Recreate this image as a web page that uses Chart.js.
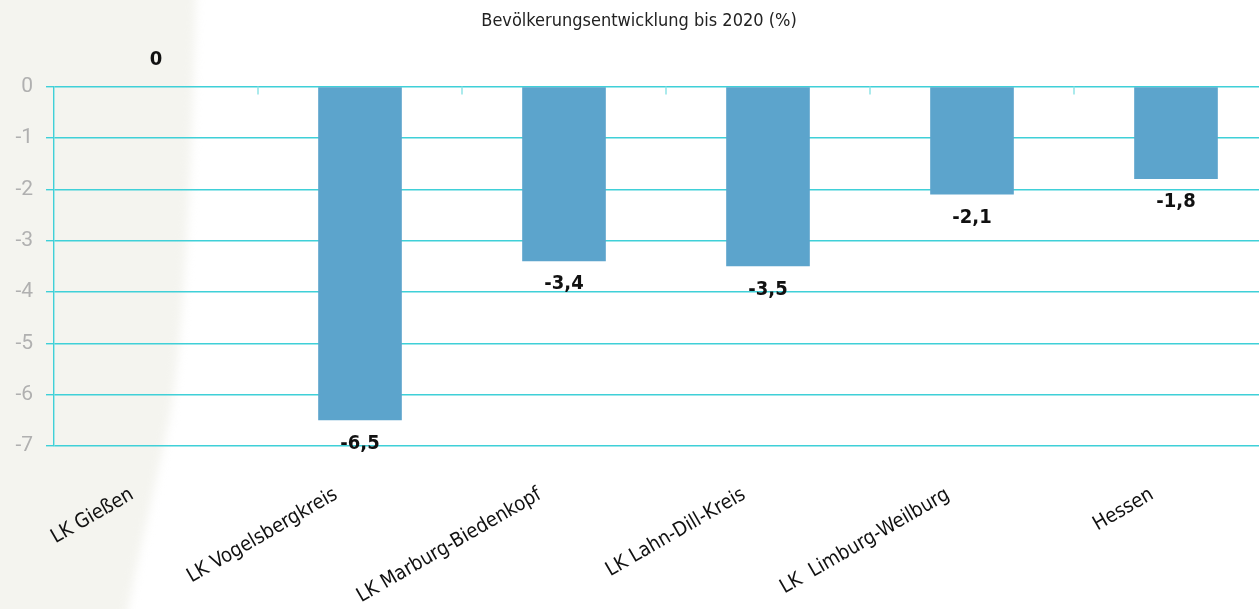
<!DOCTYPE html>
<html>
<head>
<meta charset="utf-8">
<script src="https://cdn.jsdelivr.net/npm/chart.js@4/dist/chart.umd.min.js"></script>
<style>
  html, body { margin: 0; padding: 0; overflow: hidden; background: #fff; }
  #wrap { width: 1290px; height: 609px; }
</style>
</head>
<body>
<div id="wrap"><canvas id="chart"></canvas></div>
<script>
const categories = ["LK Gießen", "LK Vogelsbergkreis", "LK Marburg-Biedenkopf", "LK Lahn-Dill-Kreis", "LK  Limburg-Weilburg", "Hessen"];
const values = [0, -6.5, -3.4, -3.5, -2.1, -1.8];
const yTicks = [0, -1, -2, -3, -4, -5, -6, -7];

const narrow = "'Liberation Sans Narrow', 'Arial Narrow', 'DejaVu Sans Condensed', sans-serif";

// beiger Hintergrund links
const backdrop = {
  id: "backdrop",
  beforeDraw(chart) {
    const ctx = chart.ctx;
    ctx.save();
    ctx.filter = "blur(5px)";
    ctx.fillStyle = "#f4f4ef";
    ctx.beginPath();
    ctx.moveTo(-20, -20);
    ctx.lineTo(196, -20);
    ctx.bezierCurveTo(192, 200, 180, 380, 167, 430);
    ctx.bezierCurveTo(152, 500, 137, 560, 124, 630);
    ctx.lineTo(-20, 630);
    ctx.closePath();
    ctx.fill();
    ctx.restore();
  }
};

// kleine Teilstriche an der Nulllinie
const catTicks = {
  id: "catTicks",
  afterDatasetsDraw(chart) {
    const ctx = chart.ctx;
    const x = chart.scales.x;
    const top = chart.chartArea.top;
    const w = x.getPixelForValue(1) - x.getPixelForValue(0);
    ctx.save();
    ctx.strokeStyle = "#8fe3e6";
    ctx.lineWidth = 1.5;
    for (let i = 1; i < categories.length; i++) {
      const px = x.getPixelForValue(0) - w / 2 + i * w;
      ctx.beginPath();
      ctx.moveTo(px, top);
      ctx.lineTo(px, top + 8);
      ctx.stroke();
    }
    ctx.restore();
  }
};

const valueLabels = {
  id: "valueLabels",
  afterDatasetsDraw(chart) {
    const ctx = chart.ctx;
    const meta = chart.getDatasetMeta(0);
    ctx.save();
    ctx.font = "bold 20px " + narrow;
    ctx.fillStyle = "#111";
    ctx.textAlign = "center";
    ctx.textBaseline = "middle";
    meta.data.forEach((bar, i) => {
      const v = values[i];
      const txt = String(v).replace(".", ",");
      const y = v < 0 ? bar.y + 23 : bar.y - 27;
      ctx.fillText(txt, bar.x, y);
    });
    ctx.restore();
  }
};

new Chart(document.getElementById("chart"), {
  type: "bar",
  data: {
    labels: categories,
    datasets: [{
      data: values,
      backgroundColor: "#5ca4cc",
      categoryPercentage: 1,
      barPercentage: 0.41
    }]
  },
  options: {
    responsive: true,
    maintainAspectRatio: false,
    animation: false,
    layout: { padding: { right: 12 } },
    plugins: {
      legend: { display: false },
      tooltip: { enabled: false },
      title: {
        display: true,
        text: "Bevölkerungsentwicklung bis 2020 (%)",
        color: "#222",
        font: { family: narrow, size: 18, weight: "normal" },
        padding: { top: 11, bottom: 54 }
      }
    },
    scales: {
      y: {
        min: -7,
        max: 0,
        afterFit(scale) { scale.width = 54; },
        afterBuildTicks(scale) { scale.ticks = yTicks.map(v => ({ value: v })); },
        ticks: {
          color: "#b0b0b0",
          font: { family: "Roboto, sans-serif", size: 21 },
          padding: 13
        },
        grid: { color: "#3fd0d8", lineWidth: 1.4, tickLength: 8 },
        border: { display: true, color: "#3fd0d8", width: 1.4 }
      },
      x: {
        afterFit(scale) { scale.height = 163; },
        ticks: {
          color: "#111",
          font: { family: narrow, size: 20 },
          minRotation: 30,
          maxRotation: 30,
          autoSkip: false,
          padding: 37,
          labelOffset: -24
        },
        grid: { display: false, drawTicks: false },
        border: { display: false }
      }
    }
  },
  plugins: [backdrop, catTicks, valueLabels]
});
</script>
</body>
</html>
